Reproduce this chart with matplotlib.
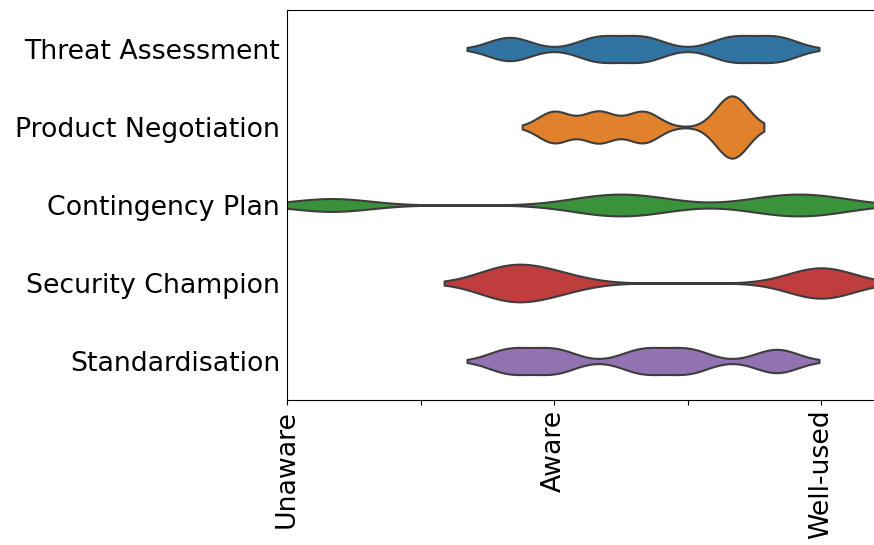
import numpy as np
import pandas as pd
import matplotlib
matplotlib.use("Agg")
import matplotlib.pyplot as plt
import seaborn as sns

# practices, top to bottom
practices = ["Threat Assessment", "Product Negotiation", "Contingency Plan",
             "Security Champion", "Standardisation"]

# summed awareness score per respondent (0 = Unaware, 6 = Aware, 12 = Well-used)
threat_assessment = [5, 7, 8, 10, 11]
product_negotiation = [6, 7, 8, 10, 10]
contingency_plan = [1, 7, 8, 11, 12]
security_champion = [5, 5, 6, 12, 12]
standardisation = [5, 6, 8, 9, 11]

tick_pos = [0, 3, 6, 9, 12]
tick_labels = ["Unaware", "", "Aware", "", "Well-used"]

scores = [threat_assessment, product_negotiation, contingency_plan,
          security_champion, standardisation]
df = pd.DataFrame({
    "practice": np.repeat(practices, [len(s) for s in scores]),
    "score": np.concatenate(scores),
})

fig = plt.figure(figsize=(8.74, 5.45), dpi=100)
# axes runs past the right edge of the picture, like the cropped original
ax = fig.add_axes([287 / 874, 145 / 545, 623 / 874, 390 / 545])

sns.violinplot(data=df, x="score", y="practice", hue="practice",
               order=practices, hue_order=practices, orient="h",
               bw_method=0.2, cut=2, inner=None, density_norm="area",
               common_norm=True, linewidth=1.5, legend=False, ax=ax)

ax.set_xlim(0, 14)
ax.set_xticks(tick_pos)
ax.set_xticklabels(tick_labels, rotation=90, fontsize=19.3)
ax.tick_params(axis="y", length=0, pad=5, labelsize=19.3)
ax.set_xlabel("")
ax.set_ylabel("")

fig.savefig("out.png", dpi=100)
